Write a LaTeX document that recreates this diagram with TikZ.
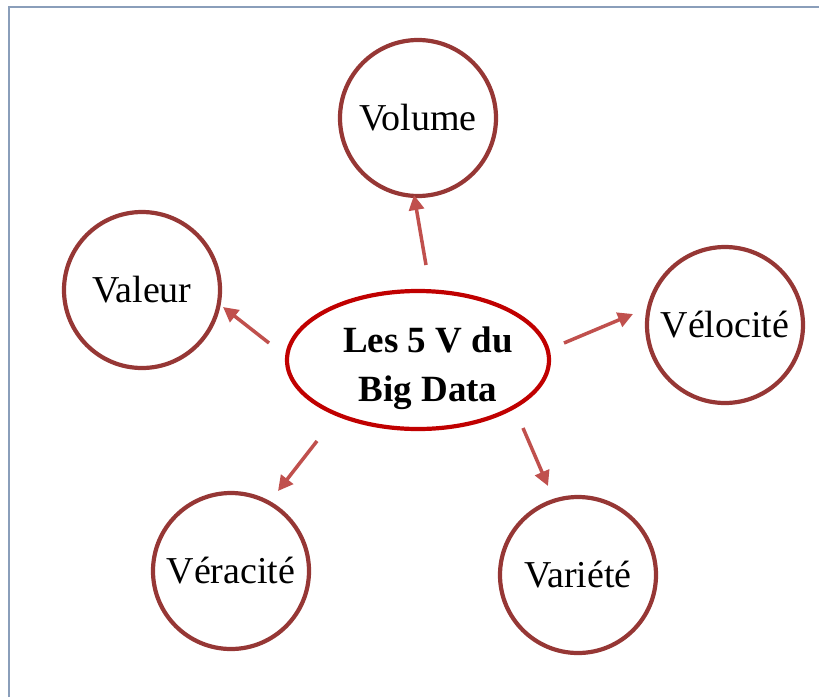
\documentclass[tikz,border=0pt]{standalone}
\usepackage{fontspec}
\setmainfont{Liberation Serif}
\usetikzlibrary{arrows.meta,shapes.geometric}

\definecolor{ringred}{RGB}{150,55,53}
\definecolor{arrowred}{RGB}{192,80,77}
\definecolor{corered}{RGB}{192,0,0}
\definecolor{framegray}{RGB}{138,158,186}

\tikzset{
  vbubble/.style={circle, draw=ringred, line width=4.2pt, minimum size=156pt,
    inner sep=0pt, font=\fontsize{38}{44}\selectfont},
  corering/.style={ellipse, draw=corered, line width=4.2pt,
    minimum width=262pt, minimum height=138pt, inner sep=0pt},
  coretext/.style={align=center, font=\fontsize{37}{49}\selectfont\bfseries},
  vlink/.style={draw=arrowred, line width=3.5pt,
    -{Triangle[length=15pt,width=15pt]}},
  frameline/.style={draw=framegray, line width=1.8pt}
}

\begin{document}
\begin{tikzpicture}[x=1pt,y=-1pt]
  \useasboundingbox (0,0) rectangle (819,697);

  % page frame (top and left edges)
  \coordinate (frameTL) at (9,7);
  \coordinate (frameTR) at (819,7);
  \coordinate (frameBL) at (9,697);
  \draw[frameline] (frameBL) -- (frameTL) -- (frameTR);

  % central concept
  \node[corering] (core) at (418,360) {};
  \node[coretext] (corelabel) at (428,368) {Les 5 V du\\Big Data};

  % the five V's
  \node[vbubble] (volume)   at (418,118) {Volume};
  \node[vbubble] (valeur)   at (142,290) {Valeur};
  \node[vbubble] (velocite) at (725,325) {V\'elocit\'e};
  \node[vbubble] (veracite) at (231,571) {V\'eracit\'e};
  \node[vbubble] (variete)  at (578,575) {Vari\'et\'e};

  % arrow end points
  \coordinate (volS) at (426,265);  \coordinate (volE) at (414,195);
  \coordinate (valS) at (269,343);  \coordinate (valE) at (223,307);
  \coordinate (velS) at (564,343);  \coordinate (velE) at (633,314);
  \coordinate (verS) at (317,441);  \coordinate (verE) at (278,491);
  \coordinate (varS) at (523,428);  \coordinate (varE) at (548,486);

  \draw[vlink] (volS) -- (volE);
  \draw[vlink] (valS) -- (valE);
  \draw[vlink] (velS) -- (velE);
  \draw[vlink] (verS) -- (verE);
  \draw[vlink] (varS) -- (varE);
\end{tikzpicture}
\end{document}
